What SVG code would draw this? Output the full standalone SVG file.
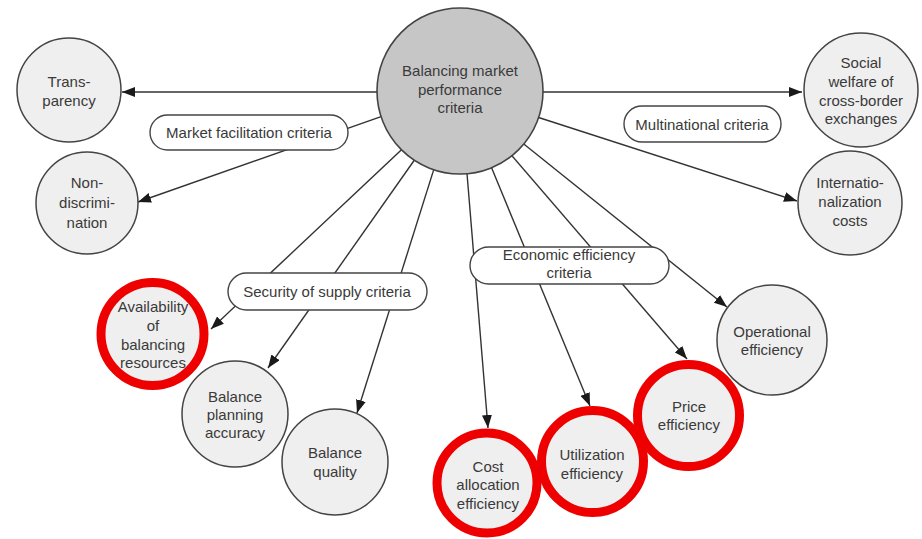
<svg xmlns="http://www.w3.org/2000/svg" width="922" height="539" viewBox="0 0 922 539">
  <defs>
    <marker id="arrow" markerUnits="userSpaceOnUse" markerWidth="13" markerHeight="10" refX="13" refY="5" orient="auto">
      <path d="M0,0 L13,5 L0,10 z" fill="#1a1a1a"/>
    </marker>
    <style>
      .edge { stroke: #333; stroke-width: 1.4; fill: none; marker-end: url(#arrow); }
      .crit { fill: #efefef; stroke: #444; stroke-width: 1.5; }
      .root { fill: #c6c6c6; stroke: #444; stroke-width: 1.6; }
      .pill { fill: #ffffff; stroke: #444; stroke-width: 1.4; }
      .mark { fill: none; stroke: #ee0000; stroke-width: 9; }
      text { font-family: "Liberation Sans", Arial, sans-serif; font-size: 15px; fill: #3a3a3a; text-anchor: middle; }
    </style>
  </defs>
  <rect width="922" height="539" fill="#ffffff"/>

  <!-- connectors from the root node -->
  <g id="connectors">
    <line class="edge" x1="385" y1="92" x2="122" y2="92"/>
    <line class="edge" x1="535" y1="92" x2="802" y2="92"/>
    <line class="edge" x1="387.5" y1="114.4" x2="138" y2="202"/>
    <line class="edge" x1="532.4" y1="115.5" x2="797" y2="201"/>
    <line class="edge" x1="406" y1="145.5" x2="211" y2="329"/>
    <line class="edge" x1="417.6" y1="155.5" x2="268" y2="368"/>
    <line class="edge" x1="435.4" y1="164.4" x2="357" y2="413"/>
    <line class="edge" x1="466.3" y1="165" x2="488" y2="428"/>
    <line class="edge" x1="489" y1="161.6" x2="590" y2="406"/>
    <line class="edge" x1="507.8" y1="151" x2="687" y2="359"/>
    <line class="edge" x1="518.8" y1="140" x2="727" y2="307"/>
  </g>

  <!-- category labels -->
  <g id="market-facilitation">
    <rect class="pill" x="150" y="115" width="198" height="35" rx="17.5"/>
    <text x="249" y="138">Market facilitation criteria</text>
  </g>
  <g id="multinational">
    <rect class="pill" x="624" y="106" width="157" height="36" rx="18"/>
    <text x="702" y="130">Multinational criteria</text>
  </g>
  <g id="security-of-supply">
    <rect class="pill" x="228" y="273" width="199" height="37" rx="18.5"/>
    <text x="327" y="297">Security of supply criteria</text>
  </g>
  <g id="economic-efficiency">
    <rect class="pill" x="470" y="247" width="199" height="37" rx="18.5"/>
    <text x="569" y="260">Economic efficiency</text>
    <text x="569" y="278">criteria</text>
  </g>

  <!-- root -->
  <g id="root">
    <circle class="root" cx="460" cy="91" r="83"/>
    <text x="460" y="76">Balancing market</text>
    <text x="460" y="94.5">performance</text>
    <text x="460" y="113">criteria</text>
  </g>

  <!-- market facilitation criteria -->
  <g id="transparency">
    <circle class="crit" cx="69" cy="90" r="52"/>
    <text x="69" y="87">Trans-</text>
    <text x="69" y="106">parency</text>
  </g>
  <g id="non-discrimination">
    <circle class="crit" cx="87" cy="203" r="51"/>
    <text x="87" y="188">Non-</text>
    <text x="87" y="208">discrimi-</text>
    <text x="87" y="228">nation</text>
  </g>

  <!-- multinational criteria -->
  <g id="social-welfare">
    <circle class="crit" cx="861" cy="90" r="57"/>
    <text x="861" y="68">Social</text>
    <text x="861" y="87">welfare of</text>
    <text x="861" y="106">cross-border</text>
    <text x="861" y="124">exchanges</text>
  </g>
  <g id="internationalization-costs">
    <circle class="crit" cx="850" cy="203" r="52"/>
    <text x="850" y="188">Internatio-</text>
    <text x="850" y="207">nalization</text>
    <text x="850" y="226">costs</text>
  </g>

  <!-- security of supply criteria -->
  <g id="availability">
    <circle class="crit" cx="152.5" cy="334" r="50"/>
    <text x="153" y="312">Availability</text>
    <text x="153" y="331">of</text>
    <text x="153" y="350">balancing</text>
    <text x="153" y="368">resources</text>
    <circle class="mark" cx="152.5" cy="334" r="51.5"/>
  </g>
  <g id="balance-planning">
    <circle class="crit" cx="235" cy="414" r="53"/>
    <text x="235" y="402">Balance</text>
    <text x="235" y="420">planning</text>
    <text x="235" y="438">accuracy</text>
  </g>
  <g id="balance-quality">
    <circle class="crit" cx="335" cy="462" r="53"/>
    <text x="335" y="458">Balance</text>
    <text x="335" y="477">quality</text>
  </g>

  <!-- economic efficiency criteria -->
  <g id="cost-allocation">
    <circle class="crit" cx="487" cy="483" r="49"/>
    <text x="488" y="472">Cost</text>
    <text x="488" y="490">allocation</text>
    <text x="488" y="509">efficiency</text>
    <circle class="mark" cx="487" cy="483" r="50"/>
  </g>
  <g id="utilization">
    <circle class="crit" cx="592.5" cy="461.5" r="50"/>
    <text x="592" y="460">Utilization</text>
    <text x="592" y="479">efficiency</text>
    <circle class="mark" cx="592.5" cy="461.5" r="51"/>
  </g>
  <g id="price">
    <circle class="crit" cx="688.5" cy="415.5" r="50"/>
    <text x="689" y="412">Price</text>
    <text x="689" y="430">efficiency</text>
    <circle class="mark" cx="688.5" cy="415.5" r="51"/>
  </g>
  <g id="operational">
    <circle class="crit" cx="772" cy="340" r="55"/>
    <text x="772" y="337">Operational</text>
    <text x="772" y="355">efficiency</text>
  </g>
</svg>
